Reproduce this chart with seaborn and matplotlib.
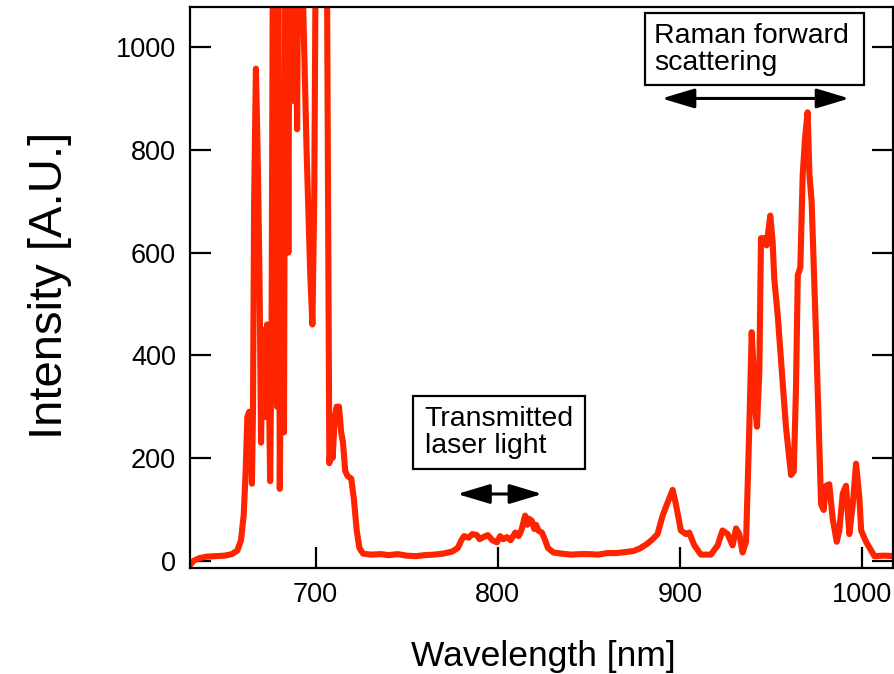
import numpy as np
import pandas as pd
import matplotlib
matplotlib.use("Agg")
import matplotlib.pyplot as plt
from matplotlib.patches import Rectangle
import seaborn as sns

# Emission spectrum: wavelength (nm) and detected intensity (arbitrary units).
# Peaks that saturate the detector are stored above the plotted range.
wl_pump = [631, 633, 636, 640, 645, 650, 654, 657, 659, 660.5, 661.5, 662.5,
           663.5, 664.3, 665, 665.6, 666.2, 667.2, 668.3, 669.2, 670, 670.8,
           671.5, 672.4, 673.3, 674, 675, 675.8, 676.6, 677.3, 678, 678.8,
           679.5, 680.3, 681, 681.8, 682.6, 683.4, 684.2, 685, 685.7, 686.4,
           687.2, 688, 688.8, 689.8, 690.6, 691.5, 693, 695, 697, 698.2,
           699.2, 700.2, 702, 704, 706, 706.8, 707.5, 708.5, 709.3, 710.5,
           711.5, 712.8, 714, 715, 716.2, 717.5, 719.5, 721, 722.5, 724, 726,
           730, 736]
int_pump = [-8, 0, 5, 8, 9, 10, 13, 20, 40, 90, 170, 280,
            290, 290, 150, 300, 700, 958, 760, 540, 230, 450,
            440, 280, 460, 420, 155, 460, 1300, 1200, 600, 300,
            1300, 140, 450, 490, 250, 1300, 1250, 600, 1300, 900,
            1300, 895, 1300, 840, 1300, 1300, 1100, 800, 560, 460,
            700, 1300, 1300, 1300, 1300, 700, 190, 230, 200, 280,
            300, 300, 250, 230, 175, 165, 160, 120, 60, 25, 14,
            12, 13]

wl_mid = [740, 745, 750, 755, 760, 765, 770, 775, 778, 780, 781.5, 784, 786,
          788.5, 790, 792, 794.5, 797, 799.5, 801.3, 803, 805, 807, 809.6,
          811.4, 813, 815, 816.2, 817, 818.7, 820, 821, 822.5, 824.2, 826,
          827.5, 830.6, 835, 840, 845, 850, 855, 860, 865, 870, 874.4, 878,
          882, 885]
int_mid = [11, 13, 10, 9, 11, 12, 14, 18, 25, 40, 48, 45, 52,
           50, 42, 46, 50, 40, 36, 48, 42, 46, 40, 55,
           48, 60, 88, 70, 82, 78, 62, 70, 58, 55, 40,
           25, 16, 14, 12, 13, 13, 12, 15, 15, 17, 19, 24,
           33, 42]

wl_raman = [887.7, 890.5, 893.2, 896, 897.8, 900.5, 903.3, 905.1, 907.9, 911.5,
            917, 920.7, 923.4, 926.2, 928.9, 930.8, 932.6, 934.4, 936.3, 938.1,
            939.4, 940.5, 941.4, 942.3, 943.6, 944.5, 946.3, 947.6, 949.6, 950.9,
            951.8, 953.7, 956.4, 958.2, 961, 962.5, 963.7, 964.7, 966.1, 967.4,
            968.7, 970.1, 971.1, 972.3, 974.7, 977.5, 978.9, 980.2, 982, 983.9,
            986.1, 987.5, 989.4, 991.2, 993, 994.9, 996.7, 998.5, 999.5, 1002.2,
            1006.8, 1012, 1017.8]
int_raman = [52, 88, 113, 138, 110, 59, 52, 55, 30, 12,
             12, 30, 59, 52, 30, 63, 52, 16, 37, 261,
             445, 369, 297, 261, 369, 628, 628, 614, 672, 621,
             549, 477, 347, 261, 167, 174, 333, 556, 571, 751,
             823, 873, 751, 700, 441, 110, 99, 146, 149, 81,
             37, 59, 131, 146, 52, 110, 189, 124, 59, 37,
             9, 10, 9]

x_ticks = [700, 800, 900, 1000]
y_ticks = [0, 200, 400, 600, 800, 1000]

spectrum = pd.DataFrame({
    "wavelength": wl_pump + wl_mid + wl_raman,
    "intensity": int_pump + int_mid + int_raman,
})

sns.set_theme(style="ticks")
plt.rcParams["font.family"] = ["Liberation Sans", "DejaVu Sans"]

fig = plt.figure(figsize=(8.95, 6.74), dpi=100)
ax = fig.add_axes([0.2123, 0.1573, 0.7855, 0.8323])

sns.lineplot(data=spectrum, x="wavelength", y="intensity", ax=ax,
             color="#ff2400", linewidth=4.4, estimator=None, sort=False)

ax.set_xlim(631, 1017)
ax.set_ylim(-14, 1078)
ax.set_xticks(x_ticks)
ax.set_yticks(y_ticks)
ax.set_xticklabels([str(v) for v in x_ticks])
ax.set_yticklabels([str(v) for v in y_ticks])
ax.tick_params(direction="in", length=15, width=1.6, labelsize=19.5, pad=10,
               right=True, top=False, colors="black")
for sp in ax.spines.values():
    sp.set_visible(True)
    sp.set_linewidth(1.6)
    sp.set_color("black")

ax.set_xlabel("Wavelength [nm]", fontsize=25.5, color="black")
ax.set_ylabel("Intensity [A.U.]", fontsize=34, color="black")
ax.xaxis.set_label_coords(0.503, -0.128)
ax.yaxis.set_label_coords(-0.168, 0.504)

# Labelled boxes and double-headed arrows marking the spectral bands
box_kw = dict(facecolor="white", edgecolor="black", linewidth=1.6, zorder=4)
ax.add_patch(Rectangle((881.0, 926), 119.8, 140, **box_kw))
ax.text(886.0, 996, "Raman forward\nscattering", fontsize=20.5, ha="left",
        va="center", linespacing=1.05, zorder=5, color="black")
ax.add_patch(Rectangle((753.5, 179.3), 94.5, 142.3, **box_kw))
ax.text(759.8, 250.5, "Transmitted\nlaser light", fontsize=20.5, ha="left",
        va="center", linespacing=1.05, zorder=5, color="black")

arrow_kw = dict(arrowstyle="<|-|>,head_length=1.0,head_width=0.3",
                mutation_scale=20, color="black", lw=2.2, shrinkA=0, shrinkB=0)
ax.annotate("", xy=(993, 900), xytext=(890, 900), arrowprops=arrow_kw)
ax.annotate("", xy=(824.4, 130), xytext=(777.7, 130), arrowprops=arrow_kw)

fig.savefig("out.png", dpi=100, facecolor="white")
